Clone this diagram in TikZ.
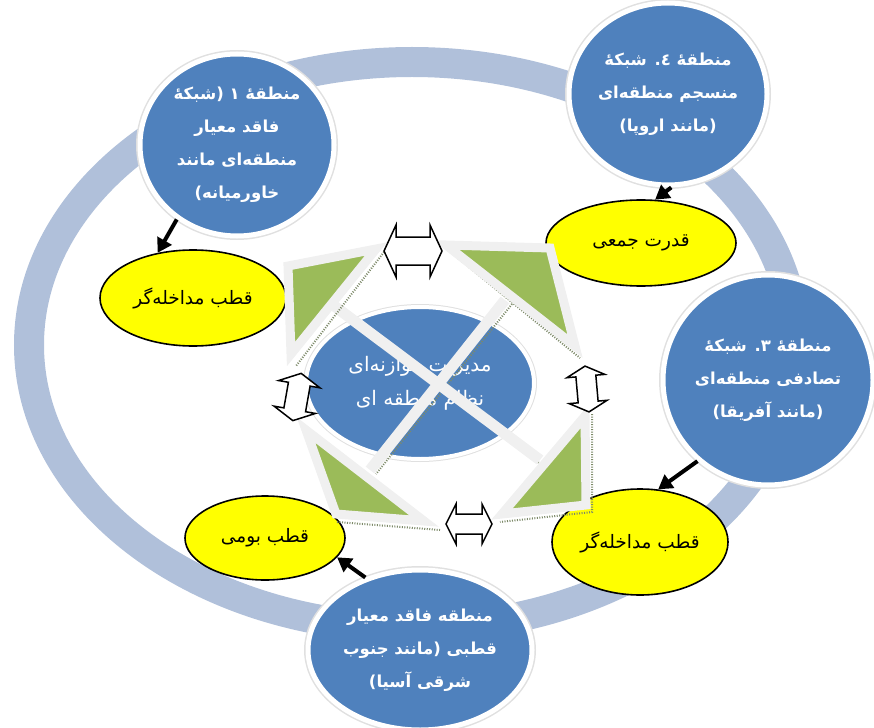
\documentclass[tikz,border=0pt]{standalone}
\usepackage{fontspec}
\newfontfamily\arabicfont[Script=Arabic]{DejaVu Sans}
\TeXXeTstate=1
\usetikzlibrary{arrows.meta,shapes.geometric}

\definecolor{ringblue}{RGB}{176,192,218}
\definecolor{zoneblue}{RGB}{79,129,189}
\definecolor{poleyellow}{RGB}{255,255,0}
\definecolor{trigreen}{RGB}{155,187,89}
\definecolor{framegray}{RGB}{240,240,240}
\definecolor{hatchgreen}{RGB}{125,138,105}

\newcommand{\fa}[1]{\beginR #1\endR}
% two-headed block arrow: centre x, centre y, angle, half length, head half width, shaft half width, head length
\newcommand{\twoway}[7]{%
  \begin{scope}[shift={(#1,#2)},rotate=#3]
    \filldraw[fill=white,draw=black,line width=1.5pt,line join=miter]
      (-#4,0) -- ({-#4+#7},#5) -- ({-#4+#7},#6) -- ({#4-#7},#6) -- ({#4-#7},#5)
      -- (#4,0) -- ({#4-#7},-#5) -- ({#4-#7},-#6) -- ({-#4+#7},-#6) -- ({-#4+#7},-#5) -- cycle;
  \end{scope}}

\begin{document}
\begin{tikzpicture}[x=1pt,y=-1pt,
  zone/.style={ellipse,fill=zoneblue,draw=white,line width=5pt,
    preaction={draw=black!12,line width=8pt},text=white,align=center,inner sep=0pt,
    font=\arabicfont\bfseries\fontsize{16.5}{33}\selectfont},
  hub/.style={ellipse,fill=zoneblue,draw=white,line width=4pt,
    preaction={draw=black!12,line width=6pt},text=white,align=center,inner sep=0pt,
    font=\arabicfont\fontsize{20}{34}\selectfont},
  pole/.style={ellipse,fill=poleyellow,draw=black,line width=1.6pt,inner sep=0pt,
    font=\arabicfont\fontsize{18.5}{22}\selectfont},
  feed/.style={line width=4pt,-{Triangle[length=14pt,width=16pt]}},
  bar/.style={framegray,line width=11pt},
  tri/.style={fill=trigreen,draw=framegray,line width=9pt,line join=miter},
  hatch/.style={hatchgreen,line width=2pt,dash pattern=on 1pt off 1.5pt}]
\useasboundingbox (0,0) rectangle (874,727);

% outer ring
\draw[ringblue,line width=30pt] (412,345) ellipse [x radius=383,y radius=283];

% regions
\node[zone,minimum width=194,minimum height=182] (zone1) at (237,145)
  {\fa{منطقهٔ ۱ (شبکهٔ}\\\fa{فاقد معیار}\\\fa{منطقه‌ای مانند}\\\fa{خاورمیانه)}};
\node[zone,minimum width=194,minimum height=182] (zone4) at (668,94)
  {\fa{منطقهٔ ٤. شبکهٔ}\\\fa{منسجم منطقه‌ای}\\\fa{(مانند اروپا)}};
\node[zone,minimum width=210,minimum height=210] (zone3) at (768,380)
  {\fa{منطقهٔ ۳. شبکهٔ}\\\fa{تصادفی منطقه‌ای}\\\fa{(مانند آفریقا)}};
\node[zone,minimum width=224,minimum height=160] (zone2) at (420,650)
  {\fa{منطقه فاقد معیار}\\\fa{قطبی (مانند جنوب}\\\fa{شرقی آسیا)}};

% poles
\node[pole,minimum width=186,minimum height=96] (pole1) at (193,298) {\fa{قطب مداخله‌گر}};
\node[pole,minimum width=190,minimum height=86] (pole4) at (641,243) {\fa{قدرت جمعی}};
\node[pole,minimum width=176,minimum height=106] (pole3) at (640,542) {\fa{قطب مداخله‌گر}};
\node[pole,minimum width=160,minimum height=84] (pole2) at (265,538) {\fa{قطب بومی}};

% centre
\node[hub,minimum width=228,minimum height=152] (hub) at (420,383)
  {\fa{مدیریت موازنه‌ای}\\\fa{نظام منطقه ای}};

% crossing bars
\draw[hatch] (338,312) -- (543,466);
\draw[hatch] (512,304) -- (376,474);
\draw[bar] (333,305) -- (540,460);
\draw[bar] (505,300) -- (370,470);

% corner triangles
\draw[hatch] (384,252) -- (296,366);
\draw[hatch] (448,250) -- (580,358);
\draw[hatch] (592,414) -- (592,512) -- (500,522);
\draw[hatch] (337,522) -- (440,530);
\draw[tri] (288,266) -- (376,249) -- (291,354) -- cycle;
\draw[tri] (446,245) -- (550,248) -- (575,346) -- cycle;
\draw[tri] (585,416) -- (586,505) -- (502,514) -- cycle;
\draw[tri] (306,430) -- (336,514) -- (424,521) -- cycle;

% links between triangles
\twoway{413}{251}{0}{29}{26}{14}{12}
\twoway{297}{397}{80}{24}{21}{11}{11}
\twoway{587}{389}{95}{23}{19}{10}{10}
\twoway{469}{524}{0}{23}{20}{10}{10}

% arrows to the poles
\draw[feed] (zone1.231) -- (pole1.128);
\draw[feed] (zone4.272) -- (pole4.72);
\draw[feed] (zone3.229) -- (pole3.71);
\draw[feed] (zone2.127) -- (pole2.345);
\end{tikzpicture}
\end{document}
